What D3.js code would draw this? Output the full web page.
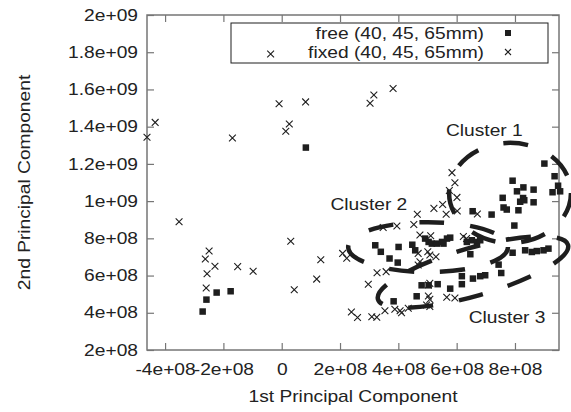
<!DOCTYPE html>
<html><head><meta charset="utf-8">
<script src="https://cdn.jsdelivr.net/npm/d3@7"></script>
<style>body{margin:0;background:#fff}svg{display:block}text{font-family:"Liberation Sans",Arial,sans-serif;fill:#222}</style>
</head><body><svg id="c" width="571" height="412"></svg>
<script>
const xTicks = [-4e8,-2e8,0,2e8,4e8,6e8,8e8];
const xTickLabels = ["-4e+08","-2e+08","0","2e+08","4e+08","6e+08","8e+08"];
const yTicks = [2e8,4e8,6e8,8e8,1e9,1.2e9,1.4e9,1.6e9,1.8e9,2e9];
const yTickLabels = ["2e+08","4e+08","6e+08","8e+08","1e+09","1.2e+09","1.4e+09","1.6e+09","1.8e+09","2e+09"];
const seriesNames = ["free (40, 45, 65mm)","fixed (40, 45, 65mm)"];

const freeX = [-2.72e8,-2.59e8,-2.24e8,-1.76e8,0.82e8,3.20e8,3.39e8,4.00e8,3.69e8,3.97e8,4.47e8,4.57e8,4.91e8,5.03e8,5.14e8,5.31e8,5.49e8,5.66e8,5.54e8,6.34e8,6.51e8,6.69e8,6.80e8,6.46e8,7.91e8,8.34e8,8.57e8,8.74e8,8.97e8,9.14e8,7.43e8,7.52e8,6.97e8,6.80e8,6.55e8,6.17e8,6.17e8,5.77e8,5.34e8,5.03e8,4.79e8,4.62e8,3.83e8,6.54e8,7.19e8,7.57e8,7.91e8,8.06e8,8.28e8,8.63e8,8.27e8,8.17e8,8.31e8,8.63e8,7.60e8,7.71e8,8.11e8,7.97e8,9.00e8,9.35e8,9.47e8,9.28e8,9.54e8,5.77e8];
const freeY = [4.08e8,4.72e8,5.10e8,5.17e8,12.89e8,7.64e8,7.29e8,7.55e8,6.93e8,6.71e8,7.67e8,7.37e8,8.00e8,7.82e8,7.73e8,7.73e8,7.82e8,8.00e8,7.73e8,7.82e8,7.91e8,7.82e8,7.91e8,7.16e8,7.24e8,7.37e8,7.28e8,7.33e8,7.37e8,7.46e8,6.60e8,6.15e8,6.03e8,5.98e8,5.85e8,5.98e8,5.55e8,5.31e8,5.55e8,5.49e8,5.49e8,4.90e8,4.63e8,9.47e8,9.29e8,10.19e8,11.11e8,10.54e8,10.75e8,10.63e8,10.18e8,9.98e8,10.06e8,9.95e8,9.67e8,9.56e8,9.52e8,8.70e8,12.03e8,11.35e8,10.84e8,10.49e8,10.54e8,8.05e8];

const fixedX = [-4.62e8,-4.34e8,-1.69e8,-0.09e8,0.26e8,0.14e8,0.82e8,3.03e8,3.16e8,3.82e8,-0.38e8,-3.52e8,-2.49e8,-2.62e8,-2.29e8,-2.56e8,-1.51e8,-0.98e8,-2.59e8,0.31e8,0.43e8,1.20e8,1.34e8,2.09e8,2.23e8,2.39e8,2.60e8,5.84e8,5.94e8,5.75e8,6.01e8,6.02e8,5.64e8,5.52e8,5.22e8,4.65e8,4.53e8,6.71e8,3.48e8,3.95e8,4.74e8,5.11e8,6.23e8,6.34e8,4.68e8,4.74e8,4.68e8,5.01e8,5.08e8,5.29e8,3.27e8,3.58e8,2.97e8,5.03e8,5.08e8,5.03e8,5.08e8,5.66e8,5.94e8,3.09e8,3.26e8,3.54e8,3.88e8,4.06e8,4.11e8,4.34e8,4.97e8,5.08e8];
const fixedY = [13.43e8,14.23e8,13.39e8,15.23e8,14.14e8,13.75e8,15.33e8,15.26e8,15.70e8,16.05e8,17.90e8,8.89e8,7.32e8,6.89e8,6.50e8,6.10e8,6.48e8,6.23e8,5.33e8,7.84e8,5.24e8,5.81e8,6.85e8,7.19e8,6.93e8,4.04e8,3.75e8,11.53e8,10.99e8,10.57e8,10.20e8,9.47e8,9.29e8,9.82e8,9.61e8,9.29e8,8.74e8,9.31e8,8.58e8,8.66e8,8.18e8,8.14e8,8.10e8,7.99e8,7.19e8,6.74e8,6.57e8,7.28e8,7.10e8,7.01e8,6.15e8,6.21e8,5.53e8,5.49e8,5.58e8,4.90e8,4.72e8,4.83e8,4.79e8,3.79e8,3.76e8,4.11e8,4.19e8,4.11e8,4.00e8,4.24e8,4.42e8,4.34e8];

// cluster annotations: centre (data), radii (data units), rotation (deg), label centre
const clusterNames = ["Cluster 1","Cluster 2","Cluster 3"];
const clusterCX = [7.83e8,5.02e8,6.56e8];
const clusterCY = [10.44e8,7.53e8,6.19e8];
const clusterRX = [2.09e8,2.74e8,3.39e8];
const clusterRY = [2.69e8,1.34e8,1.29e8];
const clusterRot = [0,0,-16];
const clusterLabelX = [6.95e8,2.99e8,7.73e8];
const clusterLabelY = [13.82e8,9.84e8,3.75e8];

const svg = d3.select("#c");
const L=147, R=559, T=15, B=350;
const x = d3.scaleLinear().domain([-4.62e8,9.51e8]).range([L,R]);
const y = d3.scaleLinear().domain([2e8,2e9]).range([B,T]);
const axisCol = "#767676";
const ink = "#1e1e1e";
const FS = 16, SX = 1.2;   // font size and horizontal stretch of the reference lettering

function stext(parent, px, py, str, anchor, rot, dy){
  const g = parent.append("g").attr("transform",`translate(${px},${py})`+(rot?` rotate(${rot})`:""));
  return g.append("text").attr("transform",`scale(${SX},1)`).attr("text-anchor",anchor)
    .attr("font-size",FS).attr("dy",dy||0).text(str);
}

// axes (gnuplot style: ticks inward, mirrored)
const gx = svg.append("g").attr("transform",`translate(0,${B})`)
  .call(d3.axisBottom(x).tickValues(xTicks).tickSize(-7).tickPadding(14).tickFormat((d,i)=>xTickLabels[i]));
const gxt = svg.append("g").attr("transform",`translate(0,${T})`)
  .call(d3.axisTop(x).tickValues(xTicks).tickSize(-7).tickFormat(""));
const gy = svg.append("g").attr("transform",`translate(${L},0)`)
  .call(d3.axisLeft(y).tickValues(yTicks).tickSize(-7).tickPadding(9).tickFormat((d,i)=>yTickLabels[i]));
const gyr = svg.append("g").attr("transform",`translate(${R},0)`)
  .call(d3.axisRight(y).tickValues(yTicks).tickSize(-7).tickFormat(""));
[gx,gxt,gy,gyr].forEach(g=>{
  g.attr("font-family",null).attr("font-size",null);
  g.select(".domain").remove();
  g.selectAll(".tick line").attr("stroke",axisCol).attr("stroke-width",1.2);
  g.selectAll(".tick text").attr("font-size",FS).attr("fill","#222")
    .style("font-family",'"Liberation Sans",Arial,sans-serif').attr("transform",`scale(${SX},1)`);
});
gy.selectAll(".tick text").attr("x",-9/SX);
svg.append("rect").attr("x",L).attr("y",T).attr("width",R-L).attr("height",B-T)
  .attr("fill","none").attr("stroke",axisCol).attr("stroke-width",1.5);

// axis titles
stext(svg,(L+R)/2,402,"1st Principal Component","middle");
stext(svg,30,(T+B)/2,"2nd Principal Component","middle",-90);

// legend
const lg = svg.append("g");
lg.append("rect").attr("x",231).attr("y",23).attr("width",317).attr("height",40).attr("fill","none").attr("stroke",ink).attr("stroke-width",1);
const legY=[33,52];
seriesNames.forEach((n,i)=>stext(lg,484,legY[i],n,"end",0,"0.35em"));
lg.append("rect").attr("x",505).attr("y",legY[0]-3).attr("width",6).attr("height",6).attr("fill",ink);
lg.append("path").attr("d",`M${505},${legY[1]-3}L${511},${legY[1]+3}M${505},${legY[1]+3}L${511},${legY[1]-3}`).attr("stroke",ink).attr("stroke-width",1.1);

// data
const plot = svg.append("g");
const free = freeX.map((v,i)=>[v,freeY[i]]);
const fixed = fixedX.map((v,i)=>[v,fixedY[i]]);
plot.selectAll("rect.f").data(free).join("rect").attr("class","f")
  .attr("x",d=>x(d[0])-3).attr("y",d=>y(d[1])-3).attr("width",6.5).attr("height",6.5).attr("fill",ink);
plot.selectAll("path.x").data(fixed).join("path").attr("class","x")
  .attr("d",d=>{const cx=x(d[0]),cy=y(d[1]),s=3.4;return `M${cx-s},${cy-s}L${cx+s},${cy+s}M${cx-s},${cy+s}L${cx+s},${cy-s}`;})
  .attr("stroke",ink).attr("stroke-width",1.1).attr("fill","none");

// cluster ellipses
const ann = svg.append("g");
clusterNames.forEach((n,i)=>{
  const cx=x(clusterCX[i]), cy=y(clusterCY[i]);
  const rx=Math.abs(x(clusterCX[i]+clusterRX[i])-cx), ry=Math.abs(y(clusterCY[i]+clusterRY[i])-cy);
  ann.append("ellipse").attr("cx",cx).attr("cy",cy).attr("rx",rx).attr("ry",ry)
    .attr("transform",`rotate(${clusterRot[i]},${cx},${cy})`)
    .attr("fill","none").attr("stroke",ink).attr("stroke-width",4.5)
    .attr("stroke-dasharray","25,26");
  stext(ann,x(clusterLabelX[i]),y(clusterLabelY[i]),n,"middle",0,"0.35em");
});
</script></body></html>
